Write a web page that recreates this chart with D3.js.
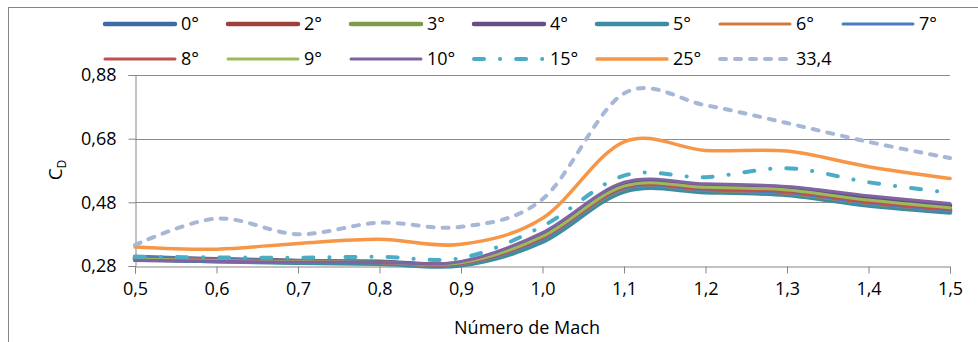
<!DOCTYPE html>
<html>
<head>
<meta charset="utf-8">
<script src="https://cdn.jsdelivr.net/npm/d3@7"></script>
<style>
body { margin: 0; background: #fff; }
text { font-family: "Open Sans", sans-serif; fill: #000; }
</style>
</head>
<body>
<svg id="chart" width="978" height="342"></svg>
<script>
var mach = [0.5, 0.6, 0.7, 0.8, 0.9, 1.0, 1.1, 1.2, 1.3, 1.4, 1.5];
var xTicks = [0.5, 0.6, 0.7, 0.8, 0.9, 1.0, 1.1, 1.2, 1.3, 1.4, 1.5];
var yTicks = [0.28, 0.48, 0.68, 0.88];

var cd0  = [0.308, 0.301, 0.296, 0.293, 0.288, 0.363, 0.520, 0.515, 0.506, 0.475, 0.452];
var cd2  = [0.306, 0.300, 0.295, 0.292, 0.287, 0.366, 0.523, 0.518, 0.509, 0.478, 0.455];
var cd3  = [0.304, 0.298, 0.294, 0.291, 0.288, 0.370, 0.527, 0.522, 0.514, 0.482, 0.459];
var cd4  = [0.300, 0.296, 0.292, 0.290, 0.290, 0.378, 0.537, 0.532, 0.525, 0.494, 0.470];
var cd5  = [0.302, 0.295, 0.290, 0.287, 0.282, 0.356, 0.514, 0.512, 0.503, 0.470, 0.448];
var cd6  = [0.303, 0.297, 0.293, 0.290, 0.286, 0.364, 0.522, 0.517, 0.508, 0.476, 0.454];
var cd7  = [0.309, 0.302, 0.296, 0.292, 0.287, 0.365, 0.524, 0.519, 0.510, 0.478, 0.455];
var cd8  = [0.305, 0.299, 0.294, 0.291, 0.288, 0.369, 0.527, 0.522, 0.514, 0.481, 0.458];
var cd9  = [0.302, 0.297, 0.293, 0.291, 0.290, 0.373, 0.531, 0.527, 0.519, 0.487, 0.463];
var cd10 = [0.298, 0.295, 0.292, 0.291, 0.294, 0.385, 0.543, 0.538, 0.530, 0.501, 0.476];
var cd15 = [0.309, 0.307, 0.306, 0.309, 0.305, 0.405, 0.564, 0.559, 0.587, 0.543, 0.510];
var cd25 = [0.340, 0.333, 0.351, 0.364, 0.348, 0.430, 0.670, 0.643, 0.641, 0.592, 0.555];
var cd33 = [0.346, 0.429, 0.380, 0.416, 0.403, 0.490, 0.822, 0.785, 0.729, 0.670, 0.619];

var series = [
    {name: "0°",   values: cd0,  color: "#3d6ba3", width: 4.5},
    {name: "2°",   values: cd2,  color: "#a0403d", width: 4.5},
    {name: "3°",   values: cd3,  color: "#7f9a48", width: 4.5},
    {name: "4°",   values: cd4,  color: "#654e86", width: 4.5},
    {name: "5°",   values: cd5,  color: "#3a8da3", width: 4.5},
    {name: "6°",   values: cd6,  color: "#d17a3c", width: 3},
    {name: "7°",   values: cd7,  color: "#4a7cc4", width: 3},
    {name: "8°",   values: cd8,  color: "#c0504d", width: 3},
    {name: "9°",   values: cd9,  color: "#9bbb59", width: 3},
    {name: "10°",  values: cd10, color: "#8064a2", width: 3},
    {name: "15°",  values: cd15, color: "#4bacc6", width: 4, dash: "10,16,0.1,16"},
    {name: "25°",  values: cd25, color: "#f79646", width: 3.5},
    {name: "33,4", values: cd33, color: "#a6b7d8", width: 4, dash: "6,9"}
];

var svg = d3.select("#chart");
var fmt = function(v) { return d3.format(".1f")(v).replace(".", ","); };

var x = d3.scaleLinear().domain([0.5, 1.5]).range([135, 950]);
var y = d3.scaleLinear().domain([0.28, 0.88]).range([266, 75]);

// chart frame
svg.append("rect")
    .attr("x", 8.5).attr("y", 7.5)
    .attr("width", 1000).attr("height", 400)
    .attr("fill", "none").attr("stroke", "#868686");

svg.append("g").selectAll("line.grid")
    .data(yTicks.slice(1))
    .enter().append("line")
    .attr("class", "grid")
    .attr("x1", x(0.5)).attr("x2", x(1.5))
    .attr("y1", function(d) { return Math.round(y(d)) + 0.5; })
    .attr("y2", function(d) { return Math.round(y(d)) + 0.5; })
    .attr("stroke", "#8c8c8c");

var xAxis = svg.append("g")
    .attr("transform", "translate(0," + (Math.round(y(0.28)) + 0.5) + ")")
    .call(d3.axisBottom(x).tickValues(xTicks).tickSize(7).tickPadding(9).tickFormat(fmt));

var yAxis = svg.append("g")
    .attr("transform", "translate(" + (Math.round(x(0.5)) + 0.5) + ",0)")
    .call(d3.axisLeft(y).tickValues(yTicks).tickSize(7).tickPadding(12)
        .tickFormat(function(d) { return d3.format(".2f")(d).replace(".", ","); }));

[xAxis, yAxis].forEach(function(a) {
    a.select(".domain").attr("stroke", "#868686");
    a.selectAll(".tick line").attr("stroke", "#868686");
    a.selectAll(".tick text").style("font-size", "18px").attr("fill", "#000");
});

var line = d3.line()
    .x(function(d, i) { return x(mach[i]); })
    .y(function(d) { return y(d); })
    .curve(d3.curveCardinal.tension(0));

svg.append("g").selectAll("path.series")
    .data(series)
    .enter().append("path")
    .attr("class", "series")
    .attr("d", function(d) { return line(d.values); })
    .attr("fill", "none")
    .attr("stroke", function(d) { return d.color; })
    .attr("stroke-width", function(d) { return d.width; })
    .attr("stroke-dasharray", function(d) { return d.dash || null; })
    .attr("stroke-linecap", "round")
    .attr("stroke-linejoin", "round");

// legend, two rows of seven
var legend = svg.append("g").selectAll("g.item")
    .data(series)
    .enter().append("g")
    .attr("class", "item")
    .attr("transform", function(d, i) {
        return "translate(" + (105 + (i % 7) * 123) + "," + (i < 7 ? 24 : 59) + ")";
    });

legend.append("line")
    .attr("x1", 0).attr("x2", 70)
    .attr("stroke", function(d) { return d.color; })
    .attr("stroke-width", function(d) { return d.width; })
    .attr("stroke-dasharray", function(d) { return d.dash || null; })
    .attr("stroke-linecap", "round");

legend.append("text")
    .attr("x", 76).attr("dy", "0.35em")
    .style("font-size", "18px")
    .text(function(d) { return d.name; });

svg.append("text")
    .attr("x", 527).attr("y", 334)
    .attr("text-anchor", "middle")
    .style("font-size", "18px")
    .text("Número de Mach");

var yTitle = svg.append("text")
    .attr("transform", "translate(62,170) rotate(-90)")
    .attr("text-anchor", "middle")
    .style("font-size", "19px");
yTitle.append("tspan").text("C");
yTitle.append("tspan").attr("dy", "0.3em").style("font-size", "12px").text("D");
</script>
</body>
</html>
